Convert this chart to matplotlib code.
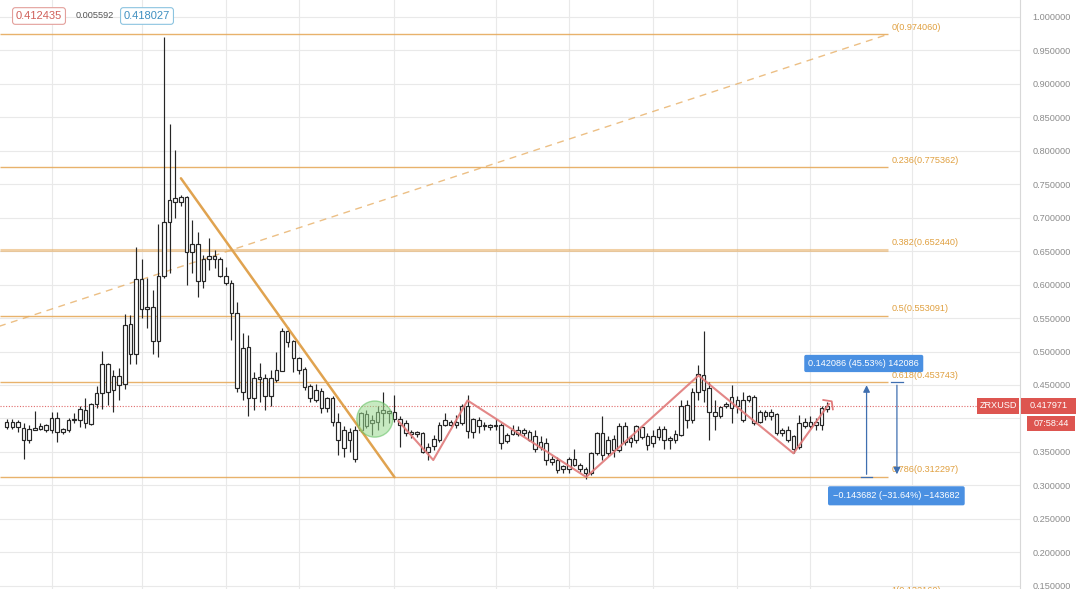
import matplotlib
matplotlib.use("Agg")
import matplotlib.pyplot as plt
from matplotlib.patches import Ellipse, FancyBboxPatch

# ---- OHLC data (ZRXUSD) ----
opens = [0.387, 0.394, 0.387, 0.386, 0.367, 0.383, 0.384, 0.383, 0.382, 0.400,
         0.379, 0.383, 0.398, 0.398, 0.413, 0.392, 0.422, 0.438, 0.481, 0.443,
         0.463, 0.452, 0.541, 0.497, 0.609, 0.563, 0.567, 0.515, 0.613, 0.693,
         0.723, 0.724, 0.731, 0.649, 0.661, 0.605, 0.638, 0.643, 0.639, 0.613,
         0.602, 0.558, 0.440, 0.506, 0.430, 0.459, 0.460, 0.433, 0.458, 0.471,
         0.531, 0.516, 0.491, 0.474, 0.448, 0.442, 0.441, 0.430, 0.430, 0.395,
         0.356, 0.380, 0.383, 0.383, 0.406, 0.393, 0.395, 0.408, 0.408, 0.410,
         0.399, 0.393, 0.378, 0.377, 0.378, 0.350, 0.359, 0.368, 0.390, 0.395,
         0.390, 0.393, 0.381, 0.399, 0.388, 0.389, 0.388, 0.389, 0.390, 0.366,
         0.377, 0.383, 0.378, 0.380, 0.373, 0.358, 0.363, 0.340, 0.338, 0.324,
         0.324, 0.339, 0.330, 0.325, 0.319, 0.348, 0.378, 0.348, 0.369, 0.353,
         0.388, 0.365, 0.368, 0.387, 0.374, 0.363, 0.372, 0.384, 0.368, 0.367,
         0.375, 0.398, 0.398, 0.440, 0.465, 0.445, 0.410, 0.403, 0.418, 0.415,
         0.427, 0.427, 0.428, 0.432, 0.395, 0.403, 0.409, 0.406, 0.383, 0.383,
         0.373, 0.358, 0.388, 0.395, 0.390, 0.390, 0.414]
highs = [0.399, 0.399, 0.398, 0.393, 0.390, 0.411, 0.393, 0.392, 0.409, 0.409,
         0.386, 0.401, 0.408, 0.419, 0.430, 0.423, 0.448, 0.501, 0.483, 0.472,
         0.476, 0.556, 0.555, 0.656, 0.638, 0.610, 0.592, 0.691, 0.970, 0.840,
         0.801, 0.734, 0.733, 0.697, 0.679, 0.644, 0.669, 0.652, 0.641, 0.627,
         0.607, 0.574, 0.527, 0.525, 0.470, 0.483, 0.467, 0.473, 0.500, 0.535,
         0.537, 0.517, 0.492, 0.477, 0.452, 0.452, 0.445, 0.432, 0.433, 0.408,
         0.388, 0.385, 0.388, 0.410, 0.412, 0.405, 0.418, 0.440, 0.412, 0.435,
         0.403, 0.398, 0.383, 0.381, 0.380, 0.363, 0.375, 0.395, 0.408, 0.398,
         0.405, 0.422, 0.435, 0.400, 0.402, 0.395, 0.391, 0.399, 0.393, 0.378,
         0.390, 0.388, 0.385, 0.382, 0.383, 0.373, 0.370, 0.344, 0.342, 0.330,
         0.342, 0.355, 0.333, 0.328, 0.350, 0.380, 0.403, 0.373, 0.375, 0.393,
         0.395, 0.375, 0.390, 0.389, 0.378, 0.383, 0.388, 0.388, 0.373, 0.383,
         0.428, 0.428, 0.445, 0.480, 0.530, 0.455, 0.428, 0.419, 0.425, 0.450,
         0.433, 0.440, 0.435, 0.435, 0.413, 0.412, 0.414, 0.408, 0.385, 0.388,
         0.375, 0.405, 0.400, 0.403, 0.400, 0.419, 0.425]
lows = [0.384, 0.384, 0.380, 0.340, 0.363, 0.382, 0.382, 0.380, 0.378, 0.364,
        0.377, 0.380, 0.393, 0.387, 0.385, 0.390, 0.415, 0.414, 0.420, 0.410,
        0.427, 0.444, 0.482, 0.482, 0.550, 0.535, 0.497, 0.492, 0.610, 0.617,
        0.700, 0.717, 0.599, 0.617, 0.582, 0.595, 0.622, 0.625, 0.611, 0.599,
        0.517, 0.440, 0.428, 0.404, 0.413, 0.425, 0.413, 0.418, 0.455, 0.471,
        0.507, 0.470, 0.467, 0.442, 0.425, 0.424, 0.408, 0.409, 0.388, 0.345,
        0.343, 0.350, 0.335, 0.380, 0.385, 0.375, 0.383, 0.388, 0.393, 0.395,
        0.358, 0.373, 0.370, 0.372, 0.348, 0.338, 0.353, 0.365, 0.388, 0.388,
        0.385, 0.390, 0.370, 0.370, 0.378, 0.383, 0.383, 0.383, 0.355, 0.363,
        0.375, 0.374, 0.373, 0.366, 0.350, 0.353, 0.330, 0.330, 0.318, 0.319,
        0.318, 0.329, 0.320, 0.309, 0.315, 0.345, 0.338, 0.344, 0.343, 0.350,
        0.360, 0.358, 0.363, 0.369, 0.353, 0.358, 0.368, 0.355, 0.355, 0.363,
        0.373, 0.385, 0.393, 0.428, 0.425, 0.368, 0.383, 0.400, 0.415, 0.393,
        0.408, 0.395, 0.425, 0.390, 0.393, 0.398, 0.398, 0.375, 0.373, 0.364,
        0.348, 0.355, 0.385, 0.385, 0.383, 0.383, 0.410]
closes = [0.394, 0.387, 0.394, 0.368, 0.384, 0.385, 0.389, 0.390, 0.400, 0.380,
          0.384, 0.398, 0.397, 0.414, 0.393, 0.421, 0.438, 0.481, 0.440, 0.463,
          0.450, 0.540, 0.497, 0.609, 0.563, 0.567, 0.515, 0.613, 0.693, 0.726,
          0.729, 0.731, 0.649, 0.661, 0.606, 0.639, 0.643, 0.638, 0.613, 0.602,
          0.557, 0.445, 0.505, 0.430, 0.460, 0.461, 0.433, 0.460, 0.472, 0.531,
          0.514, 0.490, 0.473, 0.447, 0.430, 0.428, 0.415, 0.415, 0.395, 0.368,
          0.383, 0.368, 0.340, 0.408, 0.388, 0.398, 0.410, 0.412, 0.410, 0.399,
          0.390, 0.378, 0.377, 0.378, 0.350, 0.358, 0.369, 0.390, 0.398, 0.390,
          0.395, 0.418, 0.419, 0.380, 0.398, 0.388, 0.387, 0.388, 0.363, 0.375,
          0.383, 0.377, 0.382, 0.368, 0.355, 0.365, 0.338, 0.335, 0.323, 0.329,
          0.339, 0.330, 0.324, 0.319, 0.349, 0.378, 0.346, 0.368, 0.353, 0.388,
          0.365, 0.370, 0.388, 0.372, 0.360, 0.373, 0.384, 0.367, 0.370, 0.377,
          0.418, 0.420, 0.440, 0.467, 0.442, 0.410, 0.403, 0.417, 0.422, 0.432,
          0.419, 0.398, 0.433, 0.393, 0.409, 0.409, 0.403, 0.378, 0.378, 0.368,
          0.355, 0.393, 0.395, 0.388, 0.394, 0.415, 0.417971]

last_price = 0.417971
symbol = "ZRXUSD"
countdown = "07:58:44"

# Fibonacci retracement
fib_ratios = [0, 0.236, 0.382, 0.5, 0.618, 0.786, 1]
fib_prices = [0.974060, 0.775362, 0.652440, 0.553091, 0.453743, 0.312297, 0.132160]
fib_anchor_x = [-148.3, 156.8]
fib_anchor_y = [0.132160, 0.974060]

# Drawing tools
trend_x = [31.0, 69.0]
trend_y = [0.7589, 0.3122]
zigzag_x = [69.7, 75.9, 82.0, 103.1, 123.1, 140.0, 146.3]
zigzag_y = [0.396, 0.3378, 0.4268, 0.3124, 0.4641, 0.3478, 0.4215]
circle_center = (65.5, 0.399)

measure_up = (153.0, 0.312297, 0.453743, "0.142086 (45.53%) 142086")
measure_down = (158.4, 0.453743, 0.312297, "\u22120.143682 (\u221231.64%) \u2212143682")

time_grid = [8, 24, 39, 52, 69, 87, 100, 115, 130, 143, 161]
price_ticks = [0.15 + 0.05 * k for k in range(18)]

header_values = ["0.412435", "0.005592", "0.418027"]

# ---- figure ----
W, H = 1080, 589
fig = plt.figure(figsize=(W / 100, H / 100), dpi=100)
fig.patch.set_facecolor("white")
ax = fig.add_axes([0, 0, 1020 / W, 1])
ax.set_facecolor("white")
ax.set_xlim(-1.19, 180.3)
ax.set_ylim(0.1450, 1.0254)

for s in ["top", "left", "bottom"]:
    ax.spines[s].set_visible(False)
ax.spines["right"].set_color("#d8d8d8")
ax.spines["right"].set_linewidth(0.8)

ax.set_xticks([])
ax.yaxis.tick_right()
ax.set_yticks(price_ticks)
# the 0.40 label sits under the last-price badges
ax.set_yticklabels(["" if abs(v - 0.40) < 1e-9 else f"{v:.6f}" for v in price_ticks])
ax.tick_params(axis="y", length=0, pad=9, labelsize=6.6, labelcolor="#8c8c8c")
for lbl in ax.get_yticklabels():
    lbl.set_fontfamily("Liberation Sans")

# grid
for p in price_ticks:
    ax.axhline(p, color="#e9e9e9", lw=0.8, zorder=0)
for g in time_grid:
    ax.axvline(g, color="#e9e9e9", lw=0.8, zorder=0)

# fib levels
fib_color = "#e6aa5c"
for r, p in zip(fib_ratios, fib_prices):
    lw = 2.2 if r == 0.382 else 1.0
    al = 0.55 if r == 0.382 else 0.9
    ax.plot([-1.19, fib_anchor_x[1]], [p, p], color=fib_color, lw=lw, alpha=al,
            zorder=1, solid_capstyle="butt")
    ax.text(fib_anchor_x[1] + 0.6, p + 0.004, f"{r:g}({p:.6f})", color="#e0a040",
            fontsize=6.6, family="Liberation Sans", va="bottom", ha="left",
            zorder=5, clip_on=False)
ax.plot(fib_anchor_x, fib_anchor_y, color=fib_color, lw=1.0, alpha=0.75,
        ls=(0, (5, 4)), zorder=1)

# last price line
ax.axhline(last_price, color="#e06b6b", lw=0.8, ls=(0, (1, 1.5)), zorder=1)

# candles
n = len(closes)
idx = list(range(n))
ax.vlines(idx, lows, highs, color="#262626", lw=0.85, zorder=3)
bottoms = [min(o, c) for o, c in zip(opens, closes)]
heights = [max(abs(c - o), 0.0025) for o, c in zip(opens, closes)]
ax.bar(idx, heights, bottom=bottoms, width=0.64, facecolor="white",
       edgecolor="#262626", linewidth=0.85, zorder=4)

# drawing tools
ax.plot(trend_x, trend_y, color="#e0a350", lw=1.8, zorder=5, solid_capstyle="round")
ax.plot(zigzag_x, zigzag_y, color="#e07a7a", lw=1.5, alpha=0.9, zorder=5)
ax.plot([zigzag_x[-1] - 1.0, zigzag_x[-1] + 0.5, zigzag_x[-1] + 0.7],
        [zigzag_y[-1] + 0.006, zigzag_y[-1] + 0.004, zigzag_y[-1] - 0.008],
        color="#e07a7a", lw=1.3, zorder=5)

circ = Ellipse(circle_center, width=6.4, height=0.054, facecolor="#9ad98f",
               edgecolor="#5fbf5f", lw=1.0, alpha=0.55, zorder=6)
ax.add_patch(circ)

# measurement arrows
blue = "#4a90e2"
for mx, y0, y1, txt in [measure_up, measure_down]:
    ax.annotate("", xy=(mx, y1), xytext=(mx, y0),
                arrowprops=dict(arrowstyle="-|>,head_length=0.4,head_width=0.2",
                                color="#3f6fb0", lw=0.9), zorder=6)
    ax.plot([mx - 1.0, mx + 1.0], [y0, y0], color="#3f6fb0", lw=0.9, zorder=6)
ax.text(152.5, 0.4821, measure_up[3], color="white", fontsize=6.6,
        family="Liberation Sans", ha="center", va="center", zorder=8,
        bbox=dict(boxstyle="round,pad=0.45,rounding_size=0.2", fc=blue, ec="none"))
ax.text(158.3, 0.2843, measure_down[3], color="white", fontsize=6.6,
        family="Liberation Sans", ha="center", va="center", zorder=8,
        bbox=dict(boxstyle="round,pad=0.55,rounding_size=0.2", fc=blue, ec="none"))

# price scale badges
def fx(px):
    return px / W

def fy(py):
    return 1 - py / H

red = "#dd5550"
for x0, y0, w, h in [(977, 414, 42, 16), (1021, 414, 55, 16), (1027, 431, 48, 15)]:
    fig.patches.append(FancyBboxPatch((fx(x0), fy(y0)), fx(w), h / H,
                                      boxstyle="square,pad=0", fc=red, ec="none",
                                      transform=fig.transFigure, figure=fig))
fig.text(fx(998), fy(406), symbol, color="white", fontsize=6.6,
         family="Liberation Sans", ha="center", va="center")
fig.text(fx(1048.5), fy(406), f"{last_price:.6f}", color="white", fontsize=6.6,
         family="Liberation Sans", ha="center", va="center")
fig.text(fx(1051), fy(423.5), countdown, color="white", fontsize=6.6,
         family="Liberation Sans", ha="center", va="center")

# header values
fig.text(fx(39), fy(16), header_values[0], color="#d0605a", fontsize=8,
         family="Liberation Sans", ha="center", va="center",
         bbox=dict(boxstyle="round,pad=0.3,rounding_size=0.25", fc="white",
                   ec="#e3a09c", lw=0.8))
fig.text(fx(95), fy(16), header_values[1], color="#555555", fontsize=6.6,
         family="Liberation Sans", ha="center", va="center")
fig.text(fx(147), fy(16), header_values[2], color="#3f8fc0", fontsize=8,
         family="Liberation Sans", ha="center", va="center",
         bbox=dict(boxstyle="round,pad=0.3,rounding_size=0.25", fc="white",
                   ec="#8cc4e0", lw=0.8))

fig.savefig("out.png", dpi=100, facecolor="white")
